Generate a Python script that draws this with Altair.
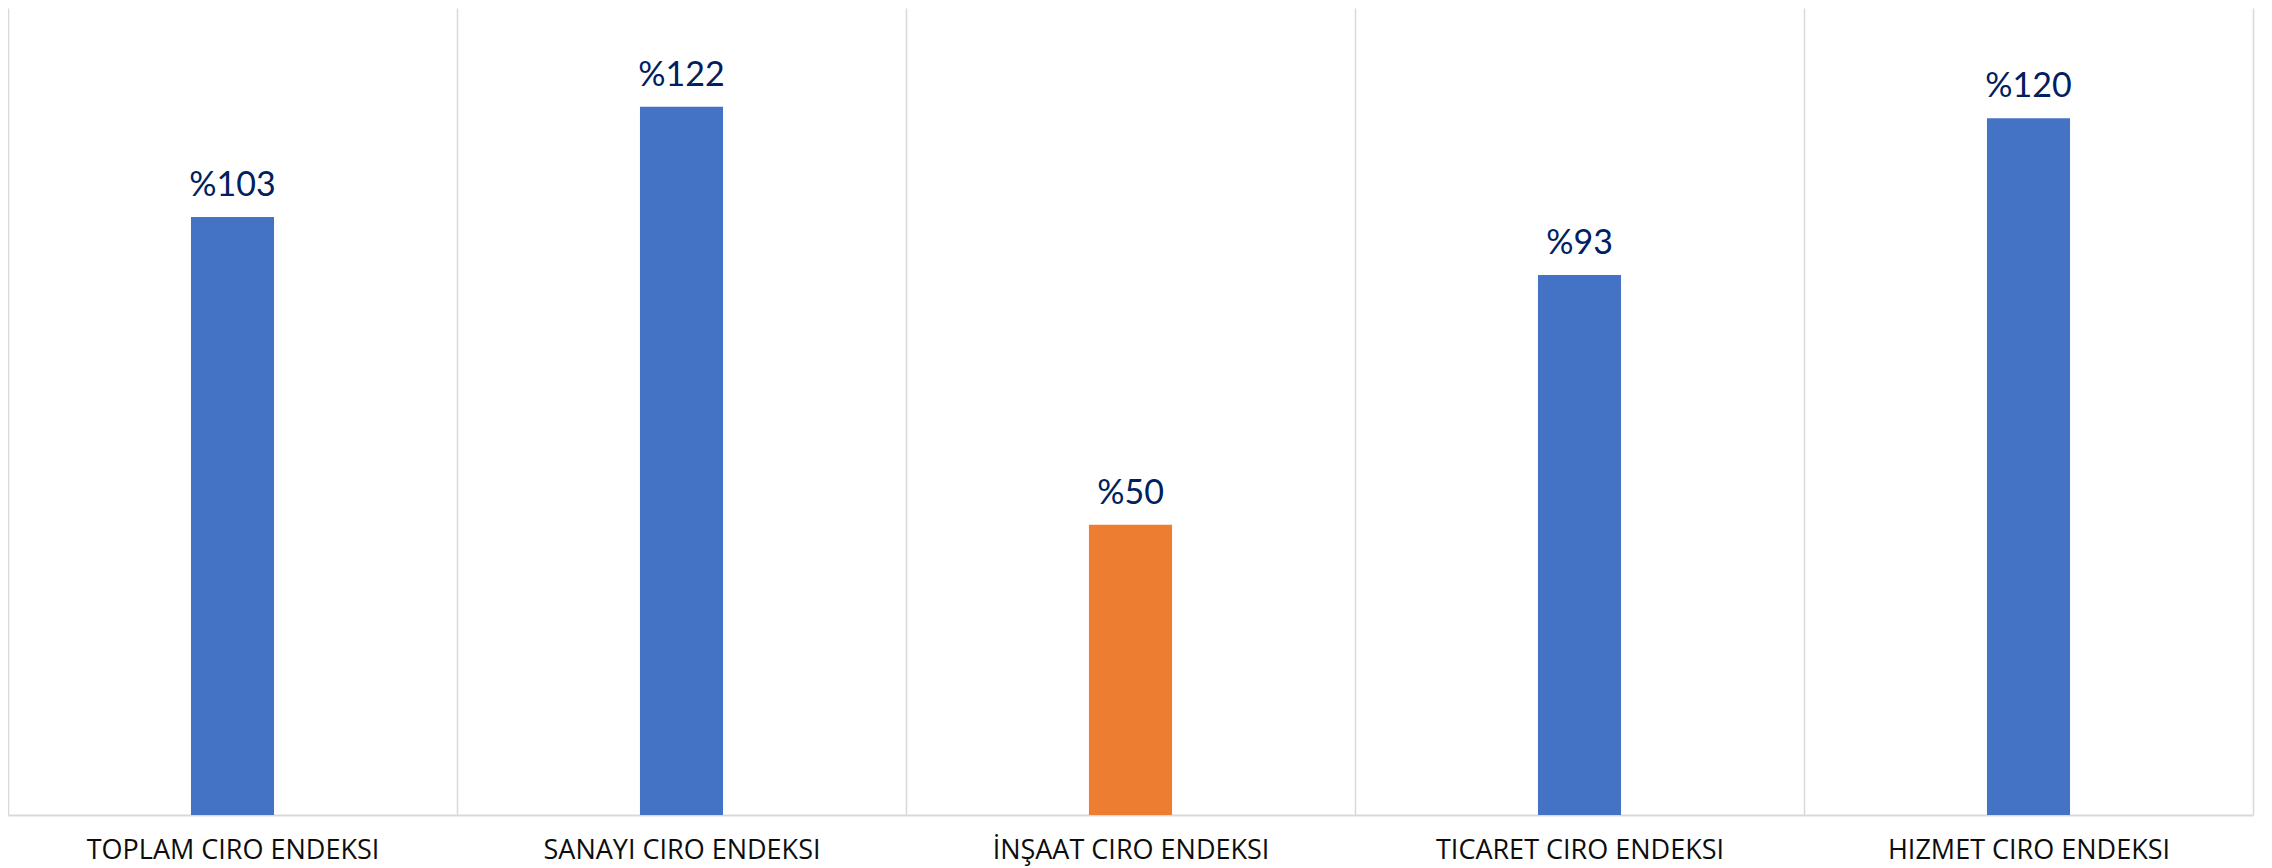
import altair as alt
import pandas as pd

categories = ["TOPLAM CIRO ENDEKSI", "SANAYI CIRO ENDEKSI", "İNŞAAT CIRO ENDEKSI",
              "TICARET CIRO ENDEKSI", "HIZMET CIRO ENDEKSI"]
values = [103, 122, 50, 93, 120]
bar_colors = ["#4472C4", "#4472C4", "#ED7D31", "#4472C4", "#4472C4"]
labels = ["%" + str(v) for v in values]

df = pd.DataFrame({"cat": categories, "val": values, "label": labels, "col": bar_colors})

x = alt.X(
    "cat:N", sort=None,
    scale=alt.Scale(paddingInner=0, paddingOuter=0),
    axis=alt.Axis(
        title=None, labelAngle=0, tickBand="extent", grid=True,
        gridColor="#d9d9d9", gridWidth=1.5, domainColor="#d9d9d9", domainWidth=2,
        ticks=False, tickSize=0, labelFont="Open Sans", labelFontSize=27,
        labelColor="#0d0d0d", labelPadding=43, labelBaseline="alphabetic",
        labelLimit=0,
    ),
)
y = alt.Y("val:Q", scale=alt.Scale(domain=[0, 139], nice=False), axis=None)

bars = alt.Chart(df).mark_bar(width=alt.RelativeBandSize(0.185)).encode(
    x=x, y=y, color=alt.Color("col:N", scale=None)
)
text = alt.Chart(df).mark_text(
    dy=-21, baseline="alphabetic", font="Lato", fontSize=34,
    color="#002060"
).encode(x=x, y=y, text="label:N")

chart = (bars + text).properties(
    width=2245, height=807,
    padding={"left": 0, "top": 0, "right": 10, "bottom": 5},
).configure_view(stroke=None)

chart.save("out.html", embed_options={"renderer": "svg", "actions": False})
